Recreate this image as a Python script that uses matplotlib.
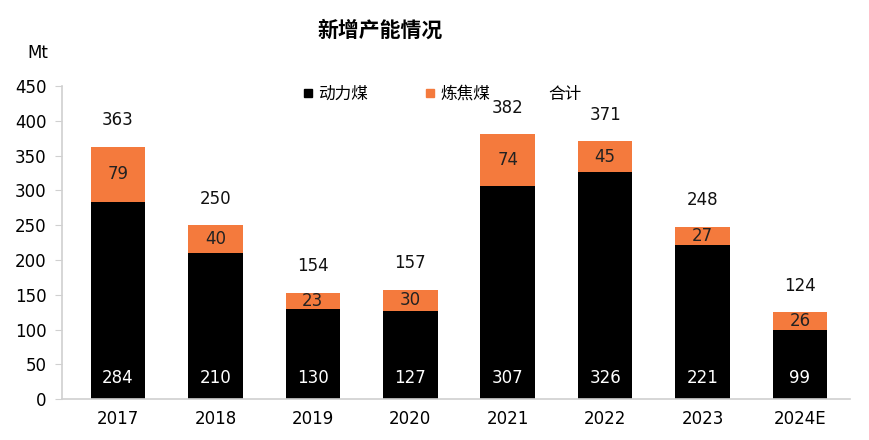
import matplotlib.pyplot as plt
from matplotlib.lines import Line2D

plt.rcParams['font.family'] = ['DejaVu Sans', 'Noto Sans CJK SC']

years = ["2017", "2018", "2019", "2020", "2021", "2022", "2023", "2024E"]
thermal = [284, 210, 130, 127, 307, 326, 221, 99]
coking = [79, 40, 23, 30, 74, 45, 27, 26]
totals = [363, 250, 154, 157, 382, 371, 248, 124]

BLACK = "#000000"
ORANGE = "#F47A3D"
GREY = "#D0D0D0"
CJK = ['Noto Sans CJK SC', 'DejaVu Sans']


def main():
	fig = plt.figure(figsize=(8.69, 4.40), dpi=100)
	ax = fig.add_axes([0.0713, 0.093, 0.9067, 0.7115])
	x = list(range(len(years)))
	w = 0.56

	ax.bar(x, thermal, w, color=BLACK, zorder=2)
	ax.bar(x, coking, w, bottom=thermal, color=ORANGE, zorder=2)

	for i in x:
		ax.text(i, 30, str(thermal[i]), ha="center", va="center", color="white", fontsize=12)
		ax.text(i, thermal[i] + coking[i] / 2, str(coking[i]), ha="center", va="center", color="#222222", fontsize=12)
		ax.annotate(str(totals[i]), (i, thermal[i] + coking[i]), xytext=(0, 19), textcoords="offset points",
			ha="center", va="center", fontsize=12, color="#111111")

	ax.set_xlim(-0.575, 7.513)
	ax.set_ylim(0, 450)
	ax.set_yticks(range(0, 451, 50))
	ax.set_xticks(x)
	ax.set_xticklabels(years)
	ax.tick_params(axis="y", length=5, color=GREY, labelsize=12, pad=6)
	ax.tick_params(axis="x", length=0, labelsize=12, pad=8)
	for s in ["top", "right"]:
		ax.spines[s].set_visible(False)
	ax.spines["left"].set_color(GREY)
	ax.spines["bottom"].set_color(GREY)
	ax.spines["left"].set_linewidth(1.2)
	ax.spines["bottom"].set_linewidth(1.2)

	# legend: 合计 has no visible marker, so it is plain text
	handles = [
		Line2D([], [], marker="s", color="none", markerfacecolor=BLACK, markeredgecolor=BLACK, markersize=6),
		Line2D([], [], marker="s", color="none", markerfacecolor=ORANGE, markeredgecolor=ORANGE, markersize=6),
	]
	fig.legend(handles, ["动力煤", "炼焦煤"], loc="center left", bbox_to_anchor=(0.331, 0.785), ncol=2,
		frameon=False, prop={"family": CJK, "size": 12}, handlelength=0.6, handletextpad=0.3, columnspacing=3.45)
	fig.text(0.631, 0.785, "合计", ha="left", va="center", fontsize=12, family=CJK)

	fig.text(0.437, 0.932, "新增产能情况", ha="center", va="center", fontsize=15, fontweight="bold", family=CJK)
	fig.text(0.044, 0.88, "Mt", ha="center", va="center", fontsize=12)

	fig.savefig("out.png", dpi=100)


if __name__ == "__main__":
	main()
